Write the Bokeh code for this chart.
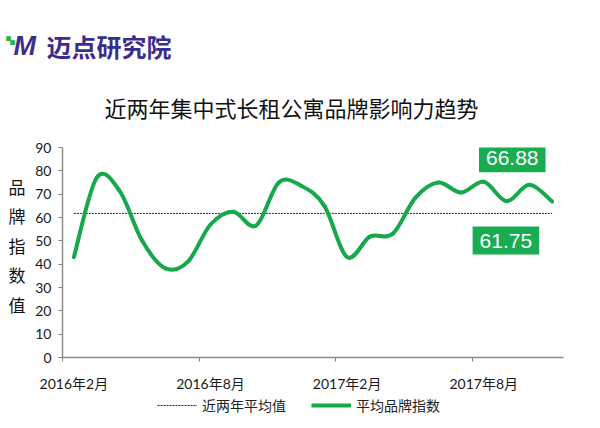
from bokeh.plotting import figure
from bokeh.layouts import column
from bokeh.models import Range1d, FixedTicker, Label, Legend, LegendItem, LinearAxis
from bokeh.embed import file_html
from bokeh.resources import INLINE

# monthly brand index, 2016-02 .. 2017-11
months = ["2016年%d月" % m for m in range(2, 13)] + ["2017年%d月" % m for m in range(1, 12)]
index_values = [43, 77, 71.5, 50, 38.3, 41, 57, 62.5, 56.5, 75, 73.5, 65,
                43, 51.8, 53, 68.5, 75, 70.7, 75.3, 67, 74, 66.88]
avg_value = 61.75
last_value = 66.88
shown_months = ["2016年2月", "2016年8月", "2017年2月", "2017年8月"]
y_ticks = [0, 10, 20, 30, 40, 50, 60, 70, 80, 90]
y_title = "品牌指数值"
chart_title = "近两年集中式长租公寓品牌影响力趋势"
series_names = ["近两年平均值", "平均品牌指数"]

GREEN = "#17a84b"
BOX_GREEN = "#19ad52"
PURPLE = "#3c2d8c"
CJK = "Noto Sans CJK SC"
NUM = "Lato, Noto Sans CJK SC"
W = 584
HEAD_H, MAIN_H, FOOT_H = 137, 257, 22

n = len(months)
xs = [i + 0.5 for i in range(n)]


def blank(height):
    f = figure(width=W, height=height, x_range=Range1d(0, W), y_range=Range1d(0, height),
               output_backend="svg", toolbar_location=None, tools="",
               min_border=0, x_axis_type=None, y_axis_type=None)
    f.outline_line_color = None
    f.xgrid.visible = False
    f.ygrid.visible = False
    f.frame_align = False
    return f


# ---- header: logo and title
head = blank(HEAD_H)


def head_text(text, ix, iy, size, color="#111111", align="center", font=CJK, style="normal"):
    head.add_layout(Label(x=ix, y=HEAD_H - iy, text=text, text_align=align,
                          text_baseline="middle", text_color=color, text_font=font,
                          text_font_size=size, text_font_style=style))


head_text("■", 5, 38, "6px", color="#2db34a", align="left")
head_text("■", 9, 42, "6px", color="#2db34a", align="left")
head_text("M", 13, 45, "27px", color=PURPLE, align="left", font="Liberation Sans", style="bold italic")
head_text("迈点研究院", 46, 45, "25px", color=PURPLE, align="left", style="bold")
head_text(chart_title, 291, 106, "22px")

# ---- main chart
p = figure(width=W, height=MAIN_H, x_range=Range1d(0, n), y_range=Range1d(0, 90),
           output_backend="svg", toolbar_location=None, tools="",
           min_border_left=62, min_border_right=21, min_border_top=10, min_border_bottom=35)
p.outline_line_color = None
p.xgrid.visible = False
p.ygrid.visible = False
p.frame_align = False

major = [xs[months.index(m)] for m in shown_months]
p.xaxis.ticker = FixedTicker(ticks=major, minor_ticks=[x - 0.5 for x in major])
p.xaxis.major_label_overrides = {x: m for x, m in zip(major, shown_months)}
p.xaxis.major_tick_out = 0
p.xaxis.major_tick_in = 0
p.xaxis.minor_tick_out = 4
p.xaxis.minor_tick_in = 0
p.xaxis.minor_tick_line_color = "#7f7f7f"
p.xaxis.major_label_standoff = 13
p.yaxis.ticker = FixedTicker(ticks=y_ticks)
p.yaxis.major_tick_out = 4
p.yaxis.major_tick_in = 0
p.yaxis.minor_tick_line_color = None
p.yaxis.major_label_standoff = 7
for ax in (p.xaxis, p.yaxis):
    ax.axis_line_color = "#8c8c8c"
    ax.axis_line_width = 1.5
    ax.major_label_text_font = NUM
    ax.major_label_text_font_size = "14px"
    ax.major_label_text_color = "#1a1a1a"
p.xaxis.major_tick_line_color = None
p.yaxis.major_tick_line_color = "#7f7f7f"

# y axis title written one character per row, as a label-only axis
char_rows = [186, 216, 246, 275, 305]  # picture rows of the characters
char_pos = [(359 - r) * 90 / 212 for r in char_rows]
title_axis = LinearAxis(ticker=FixedTicker(ticks=char_pos, minor_ticks=[]),
                        major_label_overrides={v: ch for v, ch in zip(char_pos, y_title)},
                        axis_line_color=None, major_tick_line_color=None,
                        minor_tick_line_color=None, major_tick_out=0, major_tick_in=0,
                        major_label_standoff=7, major_label_text_font=CJK,
                        major_label_text_font_size="17px", major_label_text_color="#111111")
p.add_layout(title_axis, "left")

# average line
p.line(xs, [avg_value] * n, line_color="#222222", line_width=1, line_dash="2 1")

# smoothed index line (bezier segments through the data points)
bx0, by0, bx1, by1, cx0, cy0, cx1, cy1 = [], [], [], [], [], [], [], []
for i in range(n - 1):
    pa = i - 1 if i > 0 else i
    pb = i + 2 if i + 2 < n else i + 1
    bx0.append(xs[i]); by0.append(index_values[i])
    bx1.append(xs[i + 1]); by1.append(index_values[i + 1])
    cx0.append(xs[i] + (xs[i + 1] - xs[pa]) / 6)
    cy0.append(index_values[i] + (index_values[i + 1] - index_values[pa]) / 6)
    cx1.append(xs[i + 1] - (xs[pb] - xs[i]) / 6)
    cy1.append(index_values[i + 1] - (index_values[pb] - index_values[i]) / 6)
p.bezier(x0=bx0, y0=by0, x1=bx1, y1=by1, cx0=cx0, cy0=cy0, cx1=cx1, cy1=cy1,
         line_color=GREEN, line_width=4, line_cap="round")

# value boxes
for val, bx, by in ((last_value, 19.75, 85.4), (avg_value, 19.47, 50.1)):
    p.add_layout(Label(x=bx, y=by, text="%.2f" % val, text_align="center",
                       text_baseline="middle", text_color="white", text_font="Liberation Sans",
                       text_font_size="21px", background_fill_color=BOX_GREEN, padding=7))

# ---- footer legend (keys only, no visible data)
foot = blank(FOOT_H)
nan = float("nan")
k_avg = foot.line([nan], [nan], line_color="#222222", line_width=1, line_dash="2 1")
k_idx = foot.line([nan], [nan], line_color=GREEN, line_width=4)
legend = Legend(items=[LegendItem(label=series_names[0], renderers=[k_avg]),
                       LegendItem(label=series_names[1], renderers=[k_idx])],
                orientation="horizontal", location=(157, 1), glyph_width=40, glyph_height=20,
                label_height=20, label_standoff=5, spacing=25, padding=0, margin=0,
                border_line_color=None, background_fill_alpha=0,
                label_text_font=CJK, label_text_font_size="14px", label_text_color="#222222")
foot.add_layout(legend)

page = column(head, p, foot, spacing=0)
open("out.html", "w").write(file_html(page, INLINE))
